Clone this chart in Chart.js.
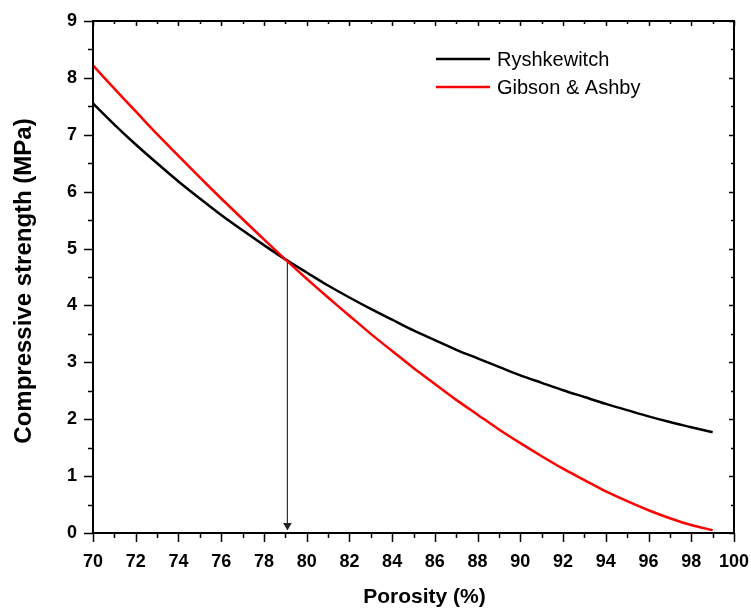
<!DOCTYPE html>
<html>
<head>
<meta charset="utf-8">
<script src="https://cdn.jsdelivr.net/npm/chart.js@4/dist/chart.umd.min.js"></script>
<style>
  html, body { margin: 0; padding: 0; background: #fff; }
  #wrap { width: 751px; height: 610px; }
</style>
</head>
<body>
<div id="wrap"><canvas id="myChart" width="751" height="610"></canvas></div>
<script>
// porosity (%) values
let porosity = [70, 71, 72, 73, 74, 75, 76, 77, 78, 79, 80, 81, 82, 83, 84,
                85, 86, 87, 88, 89, 90, 91, 92, 93, 94, 95, 96, 97, 98, 99];
let ryshkewitch = [7.55, 7.18, 6.83, 6.50, 6.18, 5.88, 5.59, 5.32, 5.06, 4.81,
                   4.58, 4.35, 4.14, 3.94, 3.75, 3.56, 3.39, 3.22, 3.07, 2.92,
                   2.77, 2.64, 2.51, 2.39, 2.27, 2.16, 2.05, 1.95, 1.86, 1.77];
let gibson_ashby = [8.22, 7.81, 7.41, 7.01, 6.63, 6.25, 5.88, 5.52, 5.16, 4.81,
                    4.47, 4.14, 3.82, 3.50, 3.20, 2.90, 2.62, 2.34, 2.08, 1.82,
                    1.58, 1.35, 1.13, 0.93, 0.73, 0.56, 0.40, 0.26, 0.14, 0.05];
// vertical arrow from the crossing point down to the axis
let arrow_x = [79.1, 79.1];
let arrow_y = [4.81, 0.13];

let x_major = [70, 72, 74, 76, 78, 80, 82, 84, 86, 88, 90, 92, 94, 96, 98, 100];
let y_major = [0, 1, 2, 3, 4, 5, 6, 7, 8, 9];

let x_title = 'Porosity (%)';
let y_title = 'Compressive strength (MPa)';

const FONT = "'Liberation Sans', Arial, sans-serif";

function toPoints(xs, ys) {
  return xs.map((x, i) => ({ x: x, y: ys[i] }));
}

// box around the plot plus major/minor tick marks
const framePlugin = {
  id: 'frame',
  afterDraw(chart) {
    const ctx = chart.ctx;
    const a = chart.chartArea;
    const xs = chart.scales.x, ys = chart.scales.y;
    ctx.save();
    ctx.strokeStyle = '#000';
    ctx.lineWidth = 2;
    ctx.strokeRect(a.left, a.top, a.right - a.left, a.bottom - a.top);
    ctx.lineWidth = 1.5;
    ctx.beginPath();
    for (let v = 70; v <= 100; v += 1) {
      let px = Math.round(xs.getPixelForValue(v)) + 0.5;
      let len = (v % 2 === 0) ? 9 : 5;
      ctx.moveTo(px, a.bottom); ctx.lineTo(px, a.bottom + len);
      ctx.moveTo(px, a.top); ctx.lineTo(px, a.top + (v % 2 === 0 ? 5 : 3));
    }
    for (let v = 0; v <= 9; v += 0.5) {
      let py = Math.round(ys.getPixelForValue(v)) + 0.5;
      let len = (v % 1 === 0) ? 9 : 5;
      ctx.moveTo(a.left, py); ctx.lineTo(a.left - len, py);
      ctx.moveTo(a.right, py); ctx.lineTo(a.right - (v % 1 === 0 ? 5 : 3), py);
    }
    ctx.stroke();

    // axis titles
    ctx.fillStyle = '#000';
    ctx.textAlign = 'center';
    ctx.textBaseline = 'middle';
    ctx.font = 'bold 21px ' + FONT;
    ctx.fillText(x_title, (a.left + a.right) / 2 + 11, 597);
    ctx.translate(24, (a.top + a.bottom) / 2 + 4);
    ctx.rotate(-Math.PI / 2);
    ctx.font = 'bold 24px ' + FONT;
    ctx.fillText(y_title, 0, 0);
    ctx.restore();
  }
};

// legend drawn inside the plot, upper right
const legendPlugin = {
  id: 'insideLegend',
  afterDatasetsDraw(chart) {
    const ctx = chart.ctx;
    const a = chart.chartArea;
    ctx.save();
    ctx.font = '20px ' + FONT;
    ctx.textBaseline = 'middle';
    let row = 0;
    chart.data.datasets.forEach(ds => {
      if (!ds.inLegend) return;
      let y = a.top + 38 + row * 28;
      ctx.strokeStyle = ds.borderColor;
      ctx.lineWidth = 2.5;
      ctx.beginPath();
      ctx.moveTo(a.left + 343, y);
      ctx.lineTo(a.left + 397, y);
      ctx.stroke();
      ctx.fillStyle = '#000';
      ctx.fillText(ds.label, a.left + 404, y + 1);
      row++;
    });
    ctx.restore();
  }
};

function noEdgePadding(s) {
  s.paddingLeft = 0; s.paddingRight = 0;
  s.paddingTop = 0; s.paddingBottom = 0;
}

let myChart = document.getElementById("myChart").getContext('2d');
let line_chart = new Chart(myChart, {
  type: 'line',
  data: {
    datasets: [
      {
        label: 'Ryshkewitch',
        inLegend: true,
        data: toPoints(porosity, ryshkewitch),
        borderColor: '#000000',
        borderWidth: 2.5,
        pointRadius: 0,
        tension: 0.3,
        order: 2
      },
      {
        label: 'Gibson & Ashby',
        inLegend: true,
        data: toPoints(porosity, gibson_ashby),
        borderColor: '#ff0000',
        borderWidth: 2.5,
        pointRadius: 0,
        tension: 0.3,
        order: 1
      },
      {
        label: 'arrow',
        inLegend: false,
        data: toPoints(arrow_x, arrow_y),
        borderColor: '#333333',
        backgroundColor: '#222222',
        borderWidth: 1,
        pointStyle: 'triangle',
        pointRadius: [0, 5],
        pointRotation: 180,
        pointBorderWidth: 0,
        tension: 0,
        order: 3
      }
    ]
  },
  options: {
    responsive: false,
    animation: false,
    layout: { padding: { top: 21, right: 17, left: 0, bottom: 0 } },
    plugins: {
      legend: { display: false },
      tooltip: { enabled: false }
    },
    scales: {
      x: {
        type: 'linear',
        min: 70,
        max: 100,
        afterFit: s => { s.height = 77; noEdgePadding(s); },
        afterBuildTicks: s => { s.ticks = x_major.map(v => ({ value: v })); },
        grid: { display: false, drawTicks: false },
        border: { display: false },
        ticks: {
          padding: 18,
          color: '#000',
          maxRotation: 0,
          autoSkip: false,
          font: { family: FONT, size: 18, weight: 'bold' }
        },
        title: { display: false }
      },
      y: {
        type: 'linear',
        min: 0,
        max: 9,
        afterFit: s => { s.width = 93; noEdgePadding(s); },
        afterBuildTicks: s => { s.ticks = y_major.map(v => ({ value: v })); },
        grid: { display: false, drawTicks: false },
        border: { display: false },
        ticks: {
          padding: 16,
          color: '#000',
          autoSkip: false,
          font: { family: FONT, size: 18, weight: 'bold' }
        },
        title: { display: false }
      }
    }
  },
  plugins: [framePlugin, legendPlugin]
});
</script>
</body>
</html>
